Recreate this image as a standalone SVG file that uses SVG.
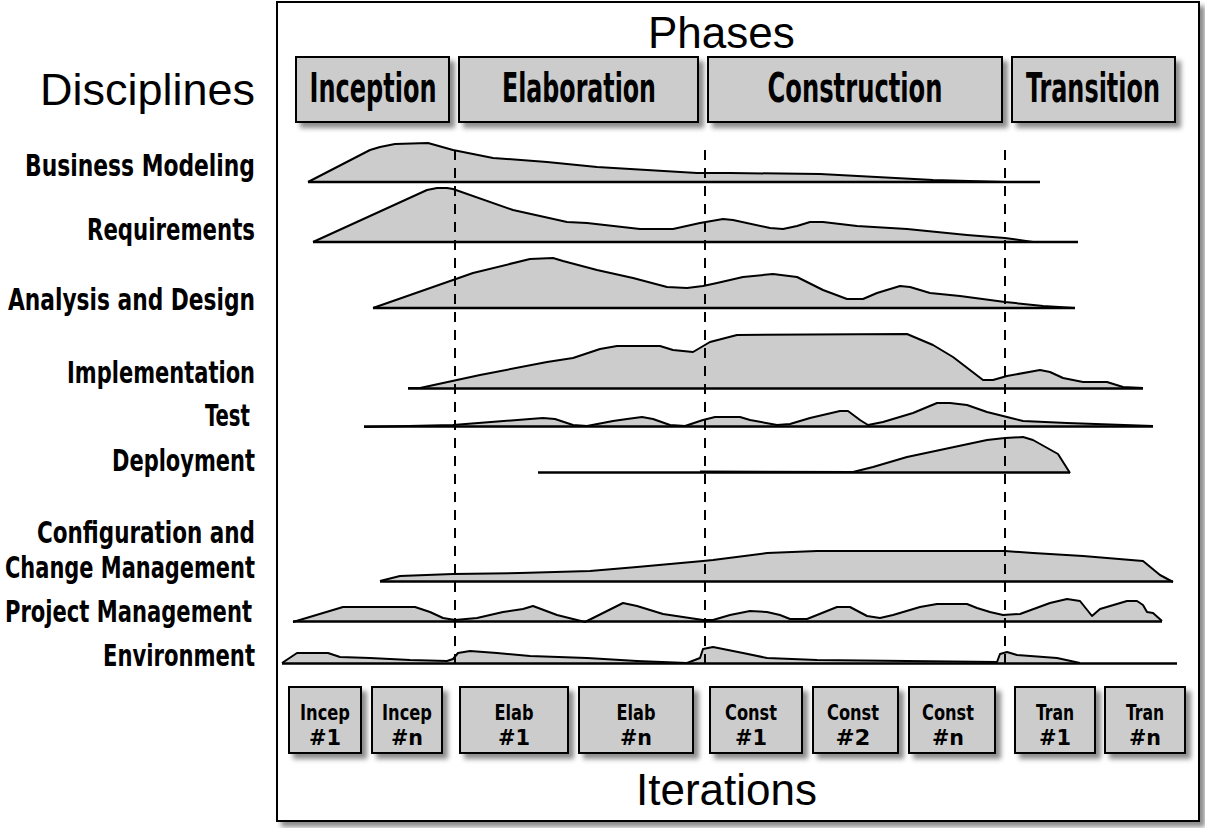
<svg xmlns="http://www.w3.org/2000/svg" width="1205" height="828" viewBox="0 0 1205 828">
<style>
.box{fill:#cccccc;stroke:#000;stroke-width:2}
.lbl{font-family:"DejaVu Sans Condensed","Liberation Sans Narrow","DejaVu Sans",sans-serif;font-weight:bold;fill:#000}
.big{font-family:"Liberation Sans",Arial,sans-serif;font-size:44px;fill:#000}
.ph{font-size:32px;text-anchor:middle}
.dl{font-size:30px}
.it{font-size:22px;text-anchor:middle}
.area{fill:#cccccc;stroke:none}
.curve{fill:none;stroke:#000;stroke-width:2;stroke-linejoin:round}
.base{stroke:#000;stroke-width:2.5}
.dash{stroke:#000;stroke-width:2;stroke-dasharray:10 8}
</style>
<defs>
<filter id="sh" x="-10%" y="-10%" width="130%" height="140%">
<feDropShadow dx="5" dy="5" stdDeviation="2.5" flood-color="#000" flood-opacity="0.45"/>
</filter>
</defs>
<rect id="frame" x="277" y="2" width="922" height="819" fill="#fff" stroke="#000" stroke-width="2" filter="url(#sh)"/>
<text class="big" x="648" y="48">Phases</text>
<text class="big" x="40" y="105" textLength="215" lengthAdjust="spacingAndGlyphs">Disciplines</text>
<text class="big" x="636" y="805">Iterations</text>

<g id="phase-inception"><rect class="box" x="296" y="57" width="153" height="65" filter="url(#sh)"/><text class="lbl ph" transform="translate(373,102) scale(1,1.25)" textLength="127" lengthAdjust="spacingAndGlyphs">Inception</text></g>
<g id="phase-elaboration"><rect class="box" x="459" y="57" width="239" height="65" filter="url(#sh)"/><text class="lbl ph" transform="translate(579,102) scale(1,1.25)" textLength="154" lengthAdjust="spacingAndGlyphs">Elaboration</text></g>
<g id="phase-construction"><rect class="box" x="708" y="57" width="294" height="65" filter="url(#sh)"/><text class="lbl ph" transform="translate(855,102) scale(1,1.25)" textLength="175" lengthAdjust="spacingAndGlyphs">Construction</text></g>
<g id="phase-transition"><rect class="box" x="1012" y="57" width="163" height="65" filter="url(#sh)"/><text class="lbl ph" transform="translate(1093,102) scale(1,1.25)" textLength="134" lengthAdjust="spacingAndGlyphs">Transition</text></g>

<g id="disciplines">
<g id="d-business"><text class="lbl dl" x="25" y="176" textLength="230" lengthAdjust="spacingAndGlyphs">Business Modeling</text>
<polygon class="area" points="308,182 370,150 380,147 395,144 428,143 453,150 493,158 547,162 597,167 647,170 697,173 730,173 820,174 933,180 1005,182"/>
<polyline class="curve" points="308,182 370,150 380,147 395,144 428,143 453,150 493,158 547,162 597,167 647,170 697,173 730,173 820,174 933,180 1005,182"/>
<line class="base" x1="308" y1="182" x2="1040" y2="182"/></g>
<g id="d-requirements"><text class="lbl dl" x="87" y="240" textLength="168" lengthAdjust="spacingAndGlyphs">Requirements</text>
<polygon class="area" points="313,242 427,190 437,188 447,188 453,189 513,210 567,222 587,223 640,229 673,229 700,223 723,219 733,220 770,228 783,229 797,226 810,222 823,222 857,226 907,229 967,235 1005,238 1033,242 1078,242"/>
<polyline class="curve" points="313,242 427,190 437,188 447,188 453,189 513,210 567,222 587,223 640,229 673,229 700,223 723,219 733,220 770,228 783,229 797,226 810,222 823,222 857,226 907,229 967,235 1005,238 1033,242 1078,242"/>
<line class="base" x1="313" y1="242" x2="1078" y2="242"/></g>
<g id="d-analysis"><text class="lbl dl" x="8" y="310" textLength="247" lengthAdjust="spacingAndGlyphs">Analysis and Design</text>
<polygon class="area" points="373,308 453,280 473,273 530,259 553,258 563,261 597,270 633,278 667,287 687,288 703,286 717,283 743,277 773,274 797,277 823,290 847,299 863,299 877,293 900,286 910,287 930,293 960,296 1005,302 1043,306 1075,308"/>
<polyline class="curve" points="373,308 453,280 473,273 530,259 553,258 563,261 597,270 633,278 667,287 687,288 703,286 717,283 743,277 773,274 797,277 823,290 847,299 863,299 877,293 900,286 910,287 930,293 960,296 1005,302 1043,306 1075,308"/>
<line class="base" x1="373" y1="308" x2="1075" y2="308"/></g>
<g id="d-implementation"><text class="lbl dl" x="67" y="383" textLength="188" lengthAdjust="spacingAndGlyphs">Implementation</text>
<polygon class="area" points="408,388 420,388 480,375 547,362 573,358 600,349 617,346 660,346 673,350 693,352 710,342 737,335 907,334 933,345 953,357 983,380 993,380 1007,376 1040,370 1050,372 1063,378 1083,382 1107,382 1123,387 1143,388"/>
<polyline class="curve" points="408,388 420,388 480,375 547,362 573,358 600,349 617,346 660,346 673,350 693,352 710,342 737,335 907,334 933,345 953,357 983,380 993,380 1007,376 1040,370 1050,372 1063,378 1083,382 1107,382 1123,387 1143,388"/>
<line class="base" x1="408" y1="388.5" x2="1143" y2="388.5"/></g>
<g id="d-test"><text class="lbl dl" x="205" y="426" textLength="45" lengthAdjust="spacingAndGlyphs">Test</text>
<polygon class="area" points="364,427 453,425 530,419 543,418 555,419 573,425 587,426 613,421 627,419 642,417 653,419 670,425 685,426 703,420 715,417 740,417 750,420 777,425 790,424 810,418 840,411 848,411 860,420 868,425 883,422 913,413 937,403 950,403 967,405 987,412 1007,417 1023,421 1067,423 1153,426"/>
<polyline class="curve" points="364,427 453,425 530,419 543,418 555,419 573,425 587,426 613,421 627,419 642,417 653,419 670,425 685,426 703,420 715,417 740,417 750,420 777,425 790,424 810,418 840,411 848,411 860,420 868,425 883,422 913,413 937,403 950,403 967,405 987,412 1007,417 1023,421 1067,423 1153,426"/>
<line class="base" x1="364" y1="426.5" x2="1153" y2="426.5"/></g>
<g id="d-deployment"><text class="lbl dl" x="112" y="471" textLength="143" lengthAdjust="spacingAndGlyphs">Deployment</text>
<polygon class="area" points="538,472 853,472 873,467 907,457 940,450 987,440 1005,438 1023,437 1033,440 1058,454 1070,473 538,473"/>
<polyline class="curve" points="700,471.5 853,472 873,467 907,457 940,450 987,440 1005,438 1023,437 1033,440 1058,454 1070,473"/>
<line class="base" x1="538" y1="472.5" x2="1070" y2="472.5"/></g>
<g id="d-config"><text class="lbl dl" x="37" y="543" textLength="218" lengthAdjust="spacingAndGlyphs">Configuration and</text>
<text class="lbl dl" x="5" y="578" textLength="250" lengthAdjust="spacingAndGlyphs">Change Management</text>
<polygon class="area" points="380,581 400,576 453,574 520,573 590,571 637,567 703,561 713,560 767,553 817,551 1005,551 1033,553 1083,556 1143,561 1160,575 1173,582"/>
<polyline class="curve" points="380,581 400,576 453,574 520,573 590,571 637,567 703,561 713,560 767,553 817,551 1005,551 1033,553 1083,556 1143,561 1160,575 1173,582"/>
<line class="base" x1="380" y1="581.5" x2="1173" y2="581.5"/></g>
<g id="d-project"><text class="lbl dl" x="5" y="622" textLength="247" lengthAdjust="spacingAndGlyphs">Project Management</text>
<polygon class="area" points="293,622 343,607 415,607 430,612 443,618 455,620 477,618 503,612 523,609 533,606 557,615 585,622 623,603 637,606 663,614 683,617 703,620 713,620 730,615 750,611 767,612 780,615 790,619 807,619 837,607 850,607 867,616 880,618 893,615 920,607 937,604 967,604 977,608 990,612 1003,615 1020,614 1050,603 1067,599 1080,601 1092,616 1100,609 1127,601 1137,601 1143,605 1147,612 1153,613 1162,621"/>
<polyline class="curve" points="293,622 343,607 415,607 430,612 443,618 455,620 477,618 503,612 523,609 533,606 557,615 585,622 623,603 637,606 663,614 683,617 703,620 713,620 730,615 750,611 767,612 780,615 790,619 807,619 837,607 850,607 867,616 880,618 893,615 920,607 937,604 967,604 977,608 990,612 1003,615 1020,614 1050,603 1067,599 1080,601 1092,616 1100,609 1127,601 1137,601 1143,605 1147,612 1153,613 1162,621"/>
<line class="base" x1="293" y1="621.5" x2="1162" y2="621.5"/></g>
<g id="d-environment"><text class="lbl dl" x="103" y="666" textLength="152" lengthAdjust="spacingAndGlyphs">Environment</text>
<polygon class="area" points="282,663 297,653 328,653 340,657 370,658 410,660 447,661 453,659 458,653 470,651 497,653 530,656 587,658 637,661 687,663 700,658 703,649 713,647 743,653 767,658 817,660 997,662 1000,654 1007,652 1017,655 1057,658 1080,663"/>
<polyline class="curve" points="282,663 297,653 328,653 340,657 370,658 410,660 447,661 453,659 458,653 470,651 497,653 530,656 587,658 637,661 687,663 700,658 703,649 713,647 743,653 767,658 817,660 997,662 1000,654 1007,652 1017,655 1057,658 1080,663"/>
<line class="base" x1="282" y1="663.5" x2="1177" y2="663.5"/></g>
</g>

<g id="connectors">
<line class="dash" x1="455" y1="150" x2="455" y2="668"/>
<line class="dash" x1="705" y1="150" x2="705" y2="668"/>
<line class="dash" x1="1005" y1="150" x2="1005" y2="668"/>
</g>

<g id="it-incep1"><rect class="box" x="289" y="687" width="72" height="66" filter="url(#sh)"/><text class="lbl it" x="325" y="720" textLength="50" lengthAdjust="spacingAndGlyphs">Incep</text><text class="lbl it" x="325" y="745" textLength="32" lengthAdjust="spacingAndGlyphs">#1</text></g>
<g id="it-incepn"><rect class="box" x="372" y="687" width="70" height="66" filter="url(#sh)"/><text class="lbl it" x="407" y="720" textLength="50" lengthAdjust="spacingAndGlyphs">Incep</text><text class="lbl it" x="407" y="745" textLength="32" lengthAdjust="spacingAndGlyphs">#n</text></g>
<g id="it-elab1"><rect class="box" x="460" y="687" width="108" height="66" filter="url(#sh)"/><text class="lbl it" x="514" y="720" textLength="39" lengthAdjust="spacingAndGlyphs">Elab</text><text class="lbl it" x="514" y="745" textLength="32" lengthAdjust="spacingAndGlyphs">#1</text></g>
<g id="it-elabn"><rect class="box" x="579" y="687" width="114" height="66" filter="url(#sh)"/><text class="lbl it" x="636" y="720" textLength="39" lengthAdjust="spacingAndGlyphs">Elab</text><text class="lbl it" x="636" y="745" textLength="32" lengthAdjust="spacingAndGlyphs">#n</text></g>
<g id="it-const1"><rect class="box" x="710" y="687" width="92" height="66" filter="url(#sh)"/><text class="lbl it" x="751" y="720" textLength="52" lengthAdjust="spacingAndGlyphs">Const</text><text class="lbl it" x="751" y="745" textLength="32" lengthAdjust="spacingAndGlyphs">#1</text></g>
<g id="it-const2"><rect class="box" x="813" y="687" width="85" height="66" filter="url(#sh)"/><text class="lbl it" x="853" y="720" textLength="52" lengthAdjust="spacingAndGlyphs">Const</text><text class="lbl it" x="853" y="745" textLength="35" lengthAdjust="spacingAndGlyphs">#2</text></g>
<g id="it-constn"><rect class="box" x="909" y="687" width="86" height="66" filter="url(#sh)"/><text class="lbl it" x="948" y="720" textLength="52" lengthAdjust="spacingAndGlyphs">Const</text><text class="lbl it" x="948" y="745" textLength="32" lengthAdjust="spacingAndGlyphs">#n</text></g>
<g id="it-tran1"><rect class="box" x="1015" y="687" width="80" height="66" filter="url(#sh)"/><text class="lbl it" x="1055" y="720" textLength="38" lengthAdjust="spacingAndGlyphs">Tran</text><text class="lbl it" x="1055" y="745" textLength="32" lengthAdjust="spacingAndGlyphs">#1</text></g>
<g id="it-trann"><rect class="box" x="1105" y="687" width="80" height="66" filter="url(#sh)"/><text class="lbl it" x="1145" y="720" textLength="38" lengthAdjust="spacingAndGlyphs">Tran</text><text class="lbl it" x="1145" y="745" textLength="32" lengthAdjust="spacingAndGlyphs">#n</text></g>
</svg>
